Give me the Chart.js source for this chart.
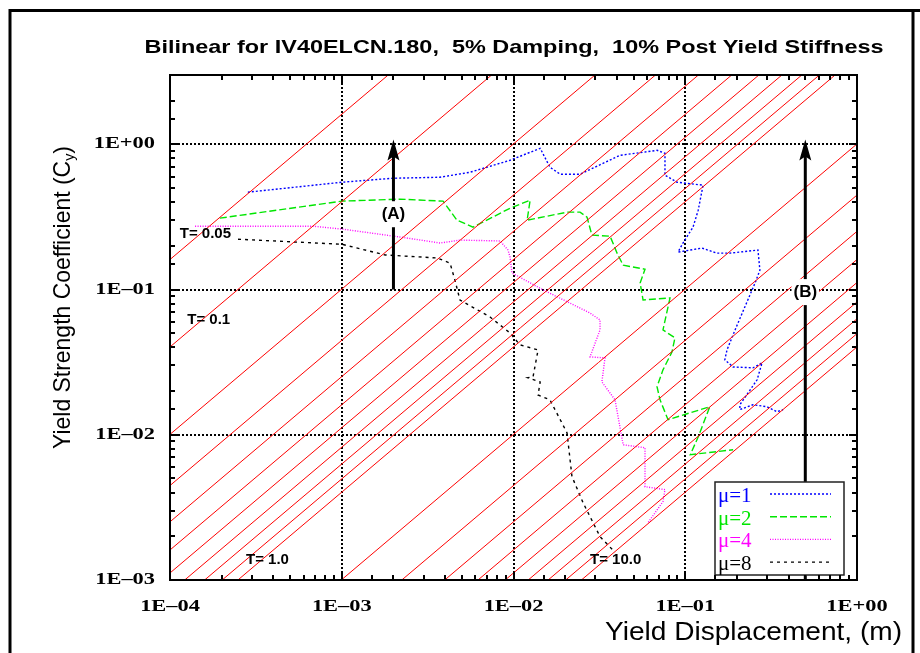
<!DOCTYPE html>
<html>
<head>
<meta charset="utf-8">
<script src="https://cdn.jsdelivr.net/npm/chart.js@4.4.1/dist/chart.umd.min.js"></script>
<style>
  html, body { margin: 0; padding: 0; background: #fff; }
  canvas { display: block; }
</style>
</head>
<body>
<canvas id="chartYield" width="920" height="653"></canvas>
<script>
// constant period lines (s), drawn as Cy = 4*pi^2 * Sd / (g * T^2)
const periods = [0.05, 0.1, 0.2, 0.3, 0.4, 0.5, 0.6, 0.7, 0.8, 0.9, 1.0, 2, 3, 4, 5, 6, 7, 8, 9, 10];

// mu = 1
const mu1Sd = [2.84e-4, 1.0e-3, 1.99e-3, 3.73e-3, 5.58e-3, 9.55e-3, 1.43e-2, 1.63e-2, 1.87e-2, 2.44e-2, 4.17e-2, 5.67e-2, 6.85e-2, 7.62e-2, 7.62e-2, 8.95e-2, 0.127, 0.119, 0.111, 0.097, 0.0908, 0.125, 0.153, 0.182, 0.265, 0.272, 0.255, 0.195, 0.175, 0.170, 0.190, 0.248, 0.280, 0.262, 0.232, 0.208, 0.208, 0.248, 0.299, 0.342, 0.371];
const mu1Cy = [0.468, 0.548, 0.584, 0.593, 0.642, 0.776, 0.939, 0.695, 0.622, 0.622, 0.840, 0.881, 0.909, 0.867, 0.612, 0.548, 0.523, 0.352, 0.269, 0.209, 0.181, 0.193, 0.178, 0.178, 0.187, 0.136, 0.111, 0.0527, 0.0384, 0.0328, 0.0293, 0.0289, 0.0313, 0.0239, 0.0194, 0.0161, 0.0149, 0.0161, 0.0156, 0.0144, 0.0149];

// mu = 2
const mu2Sd = [1.95e-4, 1.0e-3, 2.18e-3, 3.89e-3, 4.69e-3, 5.81e-3, 9.55e-3, 1.25e-2, 1.20e-2, 2.05e-2, 2.44e-2, 2.68e-2, 2.86e-2, 3.65e-2, 4.01e-2, 4.35e-2, 5.83e-2, 5.46e-2, 5.68e-2, 8.15e-2, 7.42e-2, 8.71e-2, 8.37e-2, 7.42e-2, 6.85e-2, 7.13e-2, 7.94e-2, 0.139, 0.119, 0.107, 0.190];
const mu2Cy = [0.310, 0.406, 0.419, 0.406, 0.300, 0.269, 0.363, 0.412, 0.300, 0.341, 0.341, 0.315, 0.237, 0.233, 0.178, 0.147, 0.138, 0.111, 0.0847, 0.0875, 0.0527, 0.0465, 0.0372, 0.0280, 0.0214, 0.0174, 0.0127, 0.0156, 0.00968, 0.00729, 0.00789];

// mu = 4
const mu4Sd = [1.40e-4, 6.81e-4, 1.0e-3, 2.18e-3, 3.73e-3, 4.88e-3, 8.34e-3, 9.29e-3, 9.55e-3, 9.80e-3, 1.49e-2, 2.13e-2, 2.79e-2, 3.19e-2, 3.19e-2, 2.79e-2, 3.41e-2, 3.27e-2, 3.90e-2, 4.35e-2, 5.83e-2, 5.83e-2, 7.62e-2, 7.42e-2, 6.07e-2];
const mu4Cy = [0.273, 0.273, 0.261, 0.230, 0.209, 0.219, 0.216, 0.187, 0.167, 0.130, 0.0993, 0.0807, 0.0689, 0.0617, 0.0527, 0.0344, 0.0338, 0.0231, 0.0174, 0.00853, 0.00814, 0.00439, 0.00419, 0.00347, 0.00248];

// mu = 8
const mu8Sd = [2.49e-4, 1.0e-3, 1.79e-3, 3.59e-3, 4.27e-3, 4.56e-3, 4.88e-3, 7.30e-3, 9.55e-3, 1.09e-2, 1.39e-2, 1.30e-2, 1.21e-2, 1.43e-2, 1.39e-2, 1.63e-2, 2.05e-2, 2.19e-2, 2.54e-2, 3.19e-2, 3.90e-2];
const mu8Cy = [0.222, 0.205, 0.173, 0.165, 0.152, 0.116, 0.0847, 0.0647, 0.0502, 0.0416, 0.0384, 0.0251, 0.0247, 0.0231, 0.0188, 0.0174, 0.0103, 0.00515, 0.00341, 0.00199, 0.00155];

const seriesNames = ['\u03bc=1', '\u03bc=2', '\u03bc=4', '\u03bc=8'];

// annotations: period labels and the (A)/(B) arrows, anchored in data units
const periodLabels = [
  { text: 'T= 0.05', sd: 1.14e-4, cy: 0.241 },
  { text: 'T= 0.1', sd: 1.26e-4, cy: 0.0618 },
  { text: 'T= 1.0', sd: 2.77e-4, cy: 1.38e-3 },
  { text: 'T= 10.0', sd: 2.79e-2, cy: 1.38e-3 },
];
const arrows = [
  { name: '(A)', sd: 2e-3, from: 0.1, to: 1.08, labelCy: 0.33 },
  { name: '(B)', sd: 0.5, from: 1e-3, to: 1.08, labelCy: 0.096 },
];

const G = 9.81;
const toPoints = (xs, ys) => xs.map((v, i) => ({ x: v, y: ys[i] }));
const periodLine = T => {
  const k = 4 * Math.PI * Math.PI / (G * T * T);
  return [{ x: 1e-4, y: k * 1e-4 }, { x: 1, y: k }];
};

const styles = [
  { color: 'rgb(0,0,255)', dash: [2, 2] },
  { color: 'rgb(0,230,0)', dash: [7, 3] },
  { color: 'rgb(255,0,255)', dash: [1, 1.5] },
  { color: 'rgb(0,0,0)', dash: [3, 4] },
];

const datasets = periods.map(T => ({
  data: periodLine(T),
  borderColor: 'rgb(255,0,0)',
  borderWidth: 1,
  pointRadius: 0,
}));
[[mu1Sd, mu1Cy], [mu2Sd, mu2Cy], [mu4Sd, mu4Cy], [mu8Sd, mu8Cy]].forEach(([xs, ys], i) => {
  datasets.push({
    label: seriesNames[i],
    data: toPoints(xs, ys),
    borderColor: styles[i].color,
    borderDash: styles[i].dash,
    borderWidth: 1.4,
    pointRadius: 0,
  });
});

const isDecade = v => Math.abs(Math.log10(v) - Math.round(Math.log10(v))) < 1e-6;
const expLabel = v => {
  const e = Math.round(Math.log10(v));
  return '1E' + (e < 0 ? '\u2013' : '+') + String(Math.abs(e)).padStart(2, '0');
};

function seg(ctx, x1, y1, x2, y2) {
  ctx.beginPath();
  ctx.moveTo(x1, y1);
  ctx.lineTo(x2, y2);
  ctx.stroke();
}

// draw text stretched/squeezed to a target width
function fitText(ctx, text, x, y, width, align) {
  const w = ctx.measureText(text).width;
  ctx.save();
  ctx.translate(x, y);
  ctx.scale(width / w, 1);
  ctx.textAlign = 'left';
  const off = align === 'center' ? -w / 2 : align === 'right' ? -w : 0;
  ctx.fillText(text, off, 0);
  ctx.restore();
}

function stretchText(ctx, text, x, y, sx, align) {
  const w = ctx.measureText(text).width;
  fitText(ctx, text, x, y, w * sx, align);
}

const decor = {
  id: 'decor',
  beforeDatasetsDraw(chart) {
    const { ctx, chartArea: a, scales: { x, y } } = chart;
    ctx.save();
    ctx.strokeStyle = '#000';
    ctx.lineWidth = 2;
    ctx.setLineDash([2, 2]);
    x.ticks.forEach(t => {
      if (isDecade(t.value) && t.value > x.min * 1.01 && t.value < x.max * 0.99) {
        const px = Math.round(x.getPixelForValue(t.value));
        seg(ctx, px, a.top, px, a.bottom);
      }
    });
    y.ticks.forEach(t => {
      if (isDecade(t.value) && t.value > y.min * 1.01 && t.value < y.max * 0.99) {
        const py = Math.round(y.getPixelForValue(t.value));
        seg(ctx, a.left, py, a.right, py);
      }
    });
    ctx.restore();
  },
  afterDatasetsDraw(chart) {
    const { ctx, chartArea: a, scales: { x, y } } = chart;
    ctx.save();

    // arrows
    arrows.forEach(ar => {
      const px = x.getPixelForValue(ar.sd);
      const y0 = y.getPixelForValue(ar.from);
      const y1 = y.getPixelForValue(ar.to);
      ctx.strokeStyle = '#000';
      ctx.lineWidth = 3;
      seg(ctx, px, y0, px, y1 + 14);
      ctx.fillStyle = '#000';
      ctx.beginPath();
      ctx.moveTo(px, y1);
      ctx.lineTo(px - 6, y1 + 21);
      ctx.lineTo(px, y1 + 17);
      ctx.lineTo(px + 6, y1 + 21);
      ctx.closePath();
      ctx.fill();
      const ly = y.getPixelForValue(ar.labelCy);
      ctx.font = 'bold 17px "Liberation Sans", Arial, sans-serif';
      ctx.textBaseline = 'middle';
      const tw = ctx.measureText(ar.name).width;
      ctx.fillStyle = '#fff';
      ctx.fillRect(px - tw / 2 - 2, ly - 13, tw + 4, 26);
      ctx.fillStyle = '#000';
      ctx.textAlign = 'center';
      ctx.fillText(ar.name, px, ly);
    });

    // period labels
    ctx.font = 'bold 15px "Liberation Sans", Arial, sans-serif';
    ctx.fillStyle = '#000';
    ctx.textAlign = 'left';
    ctx.textBaseline = 'middle';
    periodLabels.forEach(l => {
      ctx.fillText(l.text, x.getPixelForValue(l.sd), y.getPixelForValue(l.cy));
    });

    // legend box
    const lx = 715, ly = 482, lw = 129, lh = 93;
    ctx.fillStyle = '#fff';
    ctx.fillRect(lx, ly, lw, lh);
    ctx.strokeStyle = '#222';
    ctx.lineWidth = 1.5;
    ctx.setLineDash([]);
    ctx.strokeRect(lx, ly, lw, lh);
    ctx.font = '21px "Liberation Serif", "Times New Roman", serif';
    ctx.textBaseline = 'alphabetic';
    seriesNames.forEach((name, i) => {
      const base = ly + 20 + i * 22.7;
      ctx.fillStyle = styles[i].color;
      ctx.textAlign = 'left';
      ctx.fillText(name, lx + 3, base);
      ctx.strokeStyle = styles[i].color;
      ctx.lineWidth = 1.4;
      ctx.setLineDash(styles[i].dash);
      seg(ctx, lx + 55, base - 8, lx + 116, base - 8);
    });
    ctx.setLineDash([]);

    // plot frame and ticks on all four sides
    ctx.strokeStyle = '#000';
    ctx.lineWidth = 2;
    ctx.strokeRect(a.left, a.top, a.right - a.left, a.bottom - a.top);
    x.ticks.forEach(t => {
      const px = Math.round(x.getPixelForValue(t.value));
      if (px < a.left || px > a.right) return;
      const len = isDecade(t.value) ? 8 : 5;
      seg(ctx, px, a.bottom, px, a.bottom - len);
      seg(ctx, px, a.top, px, a.top + len);
    });
    y.ticks.forEach(t => {
      const py = Math.round(y.getPixelForValue(t.value));
      if (py < a.top || py > a.bottom) return;
      const len = isDecade(t.value) ? 8 : 5;
      seg(ctx, a.left, py, a.left + len, py);
      seg(ctx, a.right, py, a.right - len, py);
    });
    ctx.restore();
  },
  afterDraw(chart) {
    const { ctx, chartArea: a, scales: { x, y } } = chart;
    ctx.save();
    ctx.fillStyle = '#000';

    // tick labels
    ctx.font = 'bold 16px "Liberation Serif", "Times New Roman", serif';
    ctx.textBaseline = 'middle';
    x.ticks.forEach(t => {
      if (!isDecade(t.value)) return;
      stretchText(ctx, expLabel(t.value), x.getPixelForValue(t.value), a.bottom + 27, 1.4, 'center');
    });
    y.ticks.forEach(t => {
      if (!isDecade(t.value)) return;
      stretchText(ctx, expLabel(t.value), a.left - 15, y.getPixelForValue(t.value), 1.4, 'right');
    });

    // title
    ctx.textBaseline = 'alphabetic';
    ctx.font = 'bold 19px "Liberation Sans", Arial, sans-serif';
    fitText(ctx, 'Bilinear for IV40ELCN.180,  5% Damping,  10% Post Yield Stiffness', 514, 53, 739, 'center');

    // x axis title
    ctx.font = '26px "Liberation Sans", Arial, sans-serif';
    fitText(ctx, 'Yield Displacement, (m)', 605, 640, 297, 'left');

    // y axis title with subscript
    ctx.save();
    ctx.translate(70, 449);
    ctx.rotate(-Math.PI / 2);
    const main = 'Yield Strength Coefficient (C';
    ctx.font = '24px "Liberation Sans", Arial, sans-serif';
    const w1 = ctx.measureText(main).width;
    const w3 = ctx.measureText(')').width;
    ctx.font = '15px "Liberation Sans", Arial, sans-serif';
    const w2 = ctx.measureText('y').width;
    const s = 303 / (w1 + w2 + w3);
    ctx.scale(s, 1);
    ctx.textAlign = 'left';
    ctx.font = '24px "Liberation Sans", Arial, sans-serif';
    ctx.fillText(main, 0, 0);
    ctx.font = '15px "Liberation Sans", Arial, sans-serif';
    ctx.fillText('y', w1, 4);
    ctx.font = '24px "Liberation Sans", Arial, sans-serif';
    ctx.fillText(')', w1 + w2, 0);
    ctx.restore();

    // outer page border
    ctx.strokeStyle = '#000';
    ctx.lineWidth = 3;
    ctx.beginPath();
    ctx.moveTo(10, 653);
    ctx.lineTo(10, 10.5);
    ctx.lineTo(920, 10.5);
    ctx.moveTo(913, 10.5);
    ctx.lineTo(913, 653);
    ctx.stroke();
    ctx.restore();
  },
};

const config = {
  type: 'line',
  data: { datasets },
  options: {
    responsive: false,
    animation: false,
    parsing: true,
    layout: { padding: { left: 0, top: 75, right: 63, bottom: 0 } },
    plugins: { legend: { display: false }, title: { display: false }, tooltip: { enabled: false } },
    scales: {
      x: {
        type: 'logarithmic',
        min: 1e-4,
        max: 1,
        grid: { display: false },
        border: { display: false },
        ticks: { display: false, autoSkip: false },
        afterFit: s => { s.height = 73; },
      },
      y: {
        type: 'logarithmic',
        min: 1e-3,
        max: 3,
        grid: { display: false },
        border: { display: false },
        ticks: { display: false, autoSkip: false },
        afterFit: s => { s.width = 170; },
      },
    },
  },
  plugins: [decor],
};

new Chart(document.getElementById('chartYield'), config);
</script>
</body>
</html>
